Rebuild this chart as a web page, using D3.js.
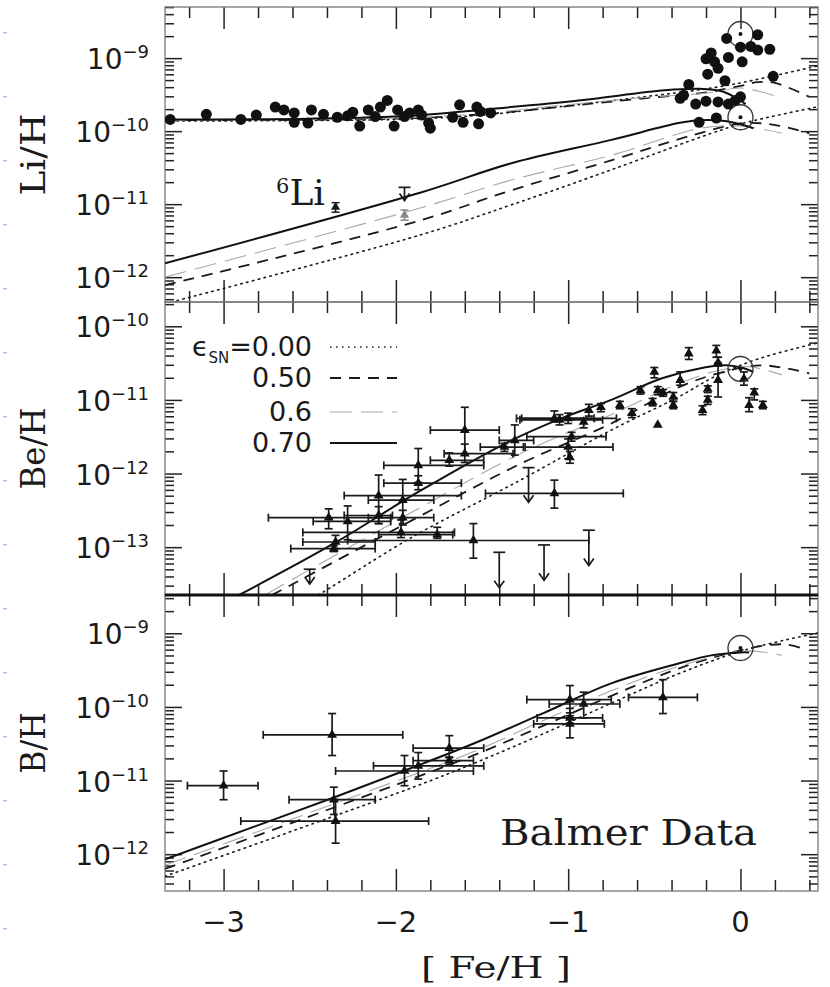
<!DOCTYPE html>
<html>
<head>
<meta charset="utf-8">
<script src="https://cdn.jsdelivr.net/npm/d3@7"></script>
<style>
  body { margin: 0; background: #fff; }
  svg { display: block; }
  .num { font-family: "DejaVu Sans", sans-serif; fill: #1a1a1a; }
  .lab { font-family: "DejaVu Serif", serif; fill: #1a1a1a; }
</style>
</head>
<body>
<script>
const width = 830;
const height = 987;
const left = 165;
const right = 818;

// [Fe/H] ticks
const xMajors = [-3, -2, -1, 0];
const xMinors = [-3.2, -2.8, -2.6, -2.4, -2.2, -1.8, -1.6, -1.4, -1.2, -0.8, -0.6, -0.4, -0.2, 0.2, 0.4];

// --- Li panel (log10 Li/H) ---
const liHalo = [
  [-3.31, -9.84], [-3.10, -9.77], [-2.90, -9.84], [-2.81, -9.78], [-2.70, -9.67],
  [-2.65, -9.71], [-2.59, -9.75], [-2.59, -9.88], [-2.51, -9.89], [-2.49, -9.71],
  [-2.42, -9.77], [-2.34, -9.81], [-2.28, -9.79], [-2.25, -9.74], [-2.21, -9.93],
  [-2.16, -9.71], [-2.12, -9.80], [-2.09, -9.67], [-2.05, -9.58], [-2.01, -9.93],
  [-1.99, -9.71], [-1.95, -9.80], [-1.92, -9.75], [-1.87, -9.71], [-1.85, -9.78],
  [-1.81, -9.89], [-1.80, -9.96], [-1.67, -9.81], [-1.63, -9.64], [-1.61, -9.88],
  [-1.53, -9.67], [-1.51, -9.73], [-1.52, -9.90], [-1.45, -9.75]
];
const liDisk = [
  [-0.30, -9.36], [-0.35, -9.55], [-0.33, -9.51], [-0.26, -9.63], [-0.20, -9.59],
  [-0.13, -9.60], [-0.07, -9.63], [-0.03, -9.58], [0.00, -9.53], [-0.24, -9.88],
  [-0.14, -9.82], [-0.19, -9.22], [-0.20, -9.01], [-0.17, -8.93], [-0.15, -9.05],
  [-0.13, -9.14], [-0.09, -9.31], [-0.08, -8.73], [-0.07, -8.99], [0.00, -8.85],
  [0.01, -9.05], [0.06, -8.84], [0.10, -8.68], [0.10, -8.89], [0.17, -8.88],
  [0.19, -9.25]
];
// 6Li: [x, y, yLow, yHigh, gray]
const li6Points = [[-2.35, -11.04, -10.98, -11.11, 0], [-1.95, -11.15, -11.08, -11.22, 1]];
// upper limits: [x, top, arrow tip]
const li6Limits = [[-1.95, -10.77, -10.95]];
const liSun = [[0, -8.67], [0, -9.81]];

const liCurves = {
  e0: [[[-3.34, -9.86], [-2.0, -9.84], [-1.5, -9.78], [-1.14, -9.69], [-0.56, -9.53], [-0.2, -9.42], [0.02, -9.33], [0.46, -9.10]],
       [[-3.27, -12.32], [-1.855, -11.42], [-1.33, -11.01], [-0.75, -10.53], [-0.17, -10.03], [0.02, -9.89], [0.46, -9.66]]],
  e5: [[[-3.34, -9.85], [-2.0, -9.83], [-1.5, -9.77], [-1.14, -9.69], [-0.56, -9.55], [-0.2, -9.47], [0.0, -9.38], [0.1, -9.33], [0.2, -9.34], [0.4, -9.53]],
       [[-3.34, -12.11], [-1.855, -11.22], [-1.33, -10.81], [-0.75, -10.40], [-0.27, -10.05], [0.02, -9.89], [0.21, -9.92], [0.40, -10.03]]],
  e6: [[[-3.34, -9.85], [-2.0, -9.82], [-1.5, -9.76], [-1.14, -9.67], [-0.56, -9.54], [-0.2, -9.48], [0.0, -9.41], [0.1, -9.45], [0.22, -9.53]],
       [[-3.34, -12.0], [-1.855, -11.05], [-1.33, -10.67], [-0.75, -10.33], [-0.23, -9.96], [0.0, -9.93], [0.24, -10.03]]],
  e7: [[[-3.34, -9.84], [-2.5, -9.83], [-1.91, -9.79], [-1.47, -9.70], [-0.94, -9.58], [-0.44, -9.44], [-0.24, -9.42], [-0.1, -9.46], [-0.02, -9.55], [0.03, -9.63]],
       [[-3.34, -11.81], [-1.855, -10.84], [-1.33, -10.44], [-0.75, -10.12], [-0.36, -9.89], [-0.24, -9.85], [-0.09, -9.86], [0.02, -9.92], [0.075, -9.96]]]
};

// --- Be panel: [x, y, xLow, xHigh, yLow, yHigh] ---
const beData = [
  [-1.60, -11.41, -1.80, -1.40, -11.10, -11.73], [-1.60, -11.73, -1.72, -1.32, -11.60, -11.85],
  [-1.69, -11.82, -1.80, -1.49, -11.72, -11.90], [-1.87, -11.89, -2.07, -1.49, -11.66, -12.12],
  [-1.87, -12.13, -2.07, -1.62, -12.03, -12.22], [-2.10, -12.30, -2.30, -1.62, -12.02, -12.68],
  [-1.96, -12.36, -2.16, -1.78, -12.08, -12.68], [-2.10, -12.57, -2.30, -2.02, -12.45, -12.68],
  [-1.96, -12.60, -2.16, -1.78, -12.50, -12.70], [-2.39, -12.60, -2.74, -2.03, -12.48, -12.75],
  [-2.28, -12.65, -2.48, -2.03, -12.44, -12.90], [-1.97, -12.80, -2.54, -1.66, -12.63, -12.87],
  [-1.76, -12.83, -2.10, -1.67, -12.73, -12.88], [-1.55, -12.91, -2.28, -0.88, -12.68, -13.15],
  [-2.35, -12.93, -2.54, -2.12, -12.84, -13.02], [-2.36, -13.02, -2.61, -2.12, -12.98, -13.06],
  [-1.37, -11.64, -1.51, -1.26, -11.59, -11.70], [-1.31, -11.55, -1.40, -1.20, -11.34, -11.75],
  [-1.08, -11.25, -1.27, -0.72, -11.15, -11.30], [-1.00, -11.25, -1.30, -0.85, -11.18, -11.32],
  [-1.05, -11.27, -1.28, -0.80, -11.20, -11.34], [-0.98, -11.50, -1.24, -0.78, -11.44, -11.56],
  [-1.00, -11.64, -1.25, -0.74, -11.53, -11.80], [-0.99, -11.78, null, null, -11.70, -11.86],
  [-0.91, -11.30, null, null, -11.25, -11.38], [-0.88, -11.14, null, null, -11.06, -11.22],
  [-0.81, -11.10, null, null, -11.05, -11.16], [-0.70, -11.07, null, null, -11.02, -11.12],
  [-0.63, -11.18, null, null, -11.12, -11.24], [-0.58, -10.87, null, null, -10.82, -10.92],
  [-0.51, -11.03, null, null, -10.98, -11.08], [-0.50, -10.62, null, null, -10.56, -10.70],
  [-0.48, -10.87, null, null, -10.82, -10.93], [-0.45, -10.90, null, null, -10.86, -10.95],
  [-0.48, -11.34, null, null, null, null], [-0.39, -10.96, null, null, -10.90, -11.02],
  [-0.39, -11.07, null, null, -11.02, -11.12], [-0.35, -10.73, null, null, -10.62, -10.80],
  [-0.30, -10.37, null, null, -10.29, -10.45], [-0.22, -11.14, null, null, -11.08, -11.20],
  [-0.19, -11.00, null, null, -10.95, -11.06], [-0.19, -10.85, null, null, -10.81, -10.90],
  [-0.14, -10.33, null, null, -10.26, -10.42], [-0.13, -10.49, null, null, -10.42, -10.54],
  [-0.13, -10.73, null, null, -10.50, -10.96], [0.02, -10.71, null, null, -10.62, -10.80],
  [0.08, -10.90, null, null, -10.85, -11.00], [0.05, -11.07, null, null, -10.97, -11.16],
  [0.13, -11.07, null, null, -11.02, -11.12], [-1.08, -12.27, -1.48, -0.68, -12.09, -12.47]
];
const beLimits = [[-1.23, -11.92, -12.39], [-0.88, -12.77, -13.25], [-1.40, -13.07, -13.55],
  [-1.14, -12.97, -13.45], [-2.50, -13.30, -13.50]];
const beSun = [[0, -10.58]];

const beCurves = {
  e0: [[[-2.45, -13.65], [-2.38, -13.55], [-1.91, -12.87], [-1.27, -12.08], [-0.75, -11.41], [-0.36, -10.96], [-0.13, -10.66], [0.12, -10.43], [0.46, -10.22]]],
  e5: [[[-2.72, -13.65], [-2.59, -13.49], [-1.91, -12.64], [-1.27, -11.86], [-0.75, -11.32], [-0.36, -10.83], [-0.13, -10.64], [0.12, -10.53], [0.4, -10.64]]],
  e6: [[[-2.76, -13.65], [-1.91, -12.53], [-1.27, -11.72], [-0.75, -11.2], [-0.36, -10.78], [-0.13, -10.6], [0.05, -10.55], [0.24, -10.66]]],
  e7: [[[-2.91, -13.65], [-2.36, -12.95], [-1.87, -12.25], [-1.33, -11.55], [-1.04, -11.25], [-0.75, -11.0], [-0.46, -10.71], [-0.21, -10.56], [-0.08, -10.53], [0.02, -10.57], [0.075, -10.62]]]
};

// --- B panel ---
const bData = [
  [-3.00, -11.07, -3.21, -2.80, -10.87, -11.26], [-2.37, -10.38, -2.77, -1.96, -10.09, -10.66],
  [-2.36, -11.26, -2.62, -2.12, -11.09, -11.46], [-2.35, -11.55, -2.90, -1.81, -11.26, -11.85],
  [-1.95, -10.87, -2.35, -1.55, -10.66, -11.07], [-1.87, -10.80, -2.13, -1.49, -10.62, -10.98],
  [-1.69, -10.56, -1.90, -1.49, -10.39, -10.69], [-1.69, -10.73, -1.90, -1.55, -10.68, -10.78],
  [-0.99, -9.90, -1.24, -0.75, -9.71, -10.12], [-0.91, -9.96, -1.11, -0.70, -9.80, -10.15],
  [-0.99, -10.23, -1.20, -0.79, -10.02, -10.42], [-0.99, -10.15, -1.18, -0.80, -10.08, -10.22],
  [-0.45, -9.87, -0.65, -0.25, -9.63, -10.09]
];
const bSun = [[0, -9.2]];

const bCurves = {
  e0: [[[-3.34, -12.3], [-1.91, -11.1], [-1.52, -10.74], [-1.14, -10.36], [-0.75, -9.95], [-0.36, -9.55], [0.02, -9.23], [0.46, -8.99]]],
  e5: [[[-3.34, -12.2], [-1.91, -10.98], [-1.52, -10.63], [-1.14, -10.25], [-0.75, -9.85], [-0.36, -9.48], [0.02, -9.22], [0.25, -9.15], [0.38, -9.22]]],
  e6: [[[-3.34, -12.15], [-1.91, -10.93], [-1.52, -10.58], [-1.14, -10.18], [-0.75, -9.78], [-0.36, -9.45], [0.02, -9.24], [0.24, -9.3]]],
  e7: [[[-3.34, -12.07], [-2.85, -11.65], [-2.36, -11.23], [-1.91, -10.83], [-1.52, -10.47], [-1.14, -10.08], [-0.75, -9.68], [-0.36, -9.41], [-0.17, -9.3], [0.0, -9.26], [0.05, -9.26]]]
};

const legendKeys = ["e0", "e5", "e6", "e7"];
const legendLabels = ["=0.00", "0.50", "0.6", "0.70"];

const lineStyles = {
  e0: { stroke: "#1a1a1a", width: 1.6, dash: "1.5,4.5" },
  e5: { stroke: "#1a1a1a", width: 1.8, dash: "11,8" },
  e6: { stroke: "#a8a8a8", width: 1.1, dash: "22,9" },
  e7: { stroke: "#111", width: 2, dash: null }
};

const x = d3.scaleLinear().domain([-3.34, 0.45]).range([left, right]);

const svg = d3.select("body").append("svg")
  .attr("width", width)
  .attr("height", height);

// faint scan marks along the left edge
svg.append("g").selectAll("rect")
  .data(d3.range(32, 960, 64))
  .enter().append("rect")
  .attr("x", 3).attr("y", d => d).attr("width", 4).attr("height", 1.5)
  .attr("fill", "#b4bdf0");

const panels = [
  { id: "li", top: 7, bottom: 302, dom: [-12.34, -8.3], majors: [-9, -10, -11, -12], title: "Li/H",
    curves: liCurves, data: [], limits: li6Limits, suns: liSun },
  { id: "be", top: 302, bottom: 595, dom: [-13.65, -9.67], majors: [-10, -11, -12, -13], title: "Be/H",
    curves: beCurves, data: beData, limits: beLimits, suns: beSun },
  { id: "b", top: 595, bottom: 891, dom: [-12.5, -8.48], majors: [-9, -10, -11, -12], title: "B/H",
    curves: bCurves, data: bData, limits: [], suns: bSun }
];

panels.forEach(function (p) {
  const y = d3.scaleLog().domain([10 ** p.dom[0], 10 ** p.dom[1]]).range([p.bottom, p.top]);
  p.y = y;
  const yv = v => y(10 ** v);

  const minors = [];
  for (let k = Math.floor(p.dom[0]); k <= Math.ceil(p.dom[1]); k++) {
    for (let m = 2; m <= 9; m++) {
      const v = m * 10 ** k;
      if (v > 10 ** p.dom[0] && v < 10 ** p.dom[1]) minors.push(v);
    }
  }
  const majors = p.majors.map(k => 10 ** k);

  svg.append("clipPath").attr("id", "clip-" + p.id)
    .append("rect")
    .attr("x", left).attr("y", p.top)
    .attr("width", right - left).attr("height", p.bottom - p.top);

  const axes = svg.append("g").attr("class", "axes");
  const addAxis = function (axis, tx, ty) {
    const g = axes.append("g")
      .attr("transform", "translate(" + tx + "," + ty + ")")
      .call(axis);
    g.select(".domain").remove();
    g.selectAll("line").attr("stroke", "#222").attr("stroke-width", 1.5);
    g.selectAll("text").remove();
  };
  addAxis(d3.axisLeft(y).tickValues(majors).tickSize(-17).tickFormat(""), left, 0);
  addAxis(d3.axisLeft(y).tickValues(minors).tickSize(-9).tickFormat(""), left, 0);
  addAxis(d3.axisRight(y).tickValues(majors).tickSize(-17).tickFormat(""), right, 0);
  addAxis(d3.axisRight(y).tickValues(minors).tickSize(-9).tickFormat(""), right, 0);
  addAxis(d3.axisTop(x).tickValues(xMajors).tickSize(-22).tickFormat(""), 0, p.top);
  addAxis(d3.axisTop(x).tickValues(xMinors).tickSize(-11).tickFormat(""), 0, p.top);
  addAxis(d3.axisBottom(x).tickValues(xMajors).tickSize(-22).tickFormat(""), 0, p.bottom);
  addAxis(d3.axisBottom(x).tickValues(xMinors).tickSize(-11).tickFormat(""), 0, p.bottom);

  svg.append("rect")
    .attr("x", left).attr("y", p.top)
    .attr("width", right - left).attr("height", p.bottom - p.top)
    .attr("fill", "none").attr("stroke", "#777").attr("stroke-width", 1.3);

  // y tick labels 10^k
  const lab = svg.append("g");
  p.majors.forEach(function (k) {
    const t = lab.append("text").attr("class", "num")
      .attr("x", 149).attr("y", yv(k) + 11)
      .attr("text-anchor", "end").attr("font-size", 28);
    t.append("tspan").text("10");
    t.append("tspan").attr("dy", -11).attr("font-size", 18).text("\u2212" + Math.abs(k));
  });

  svg.append("text").attr("class", "lab")
    .attr("transform", "translate(45," + (p.top + p.bottom) / 2 + ") rotate(-90)")
    .attr("text-anchor", "middle").attr("font-size", 34)
    .attr("textLength", p.title.length * 20.5).attr("lengthAdjust", "spacingAndGlyphs")
    .text(p.title);

  const plot = svg.append("g").attr("clip-path", "url(#clip-" + p.id + ")");
  const line = d3.line().x(d => x(d[0])).y(d => yv(d[1])).curve(d3.curveCatmullRom.alpha(0.5));

  ["e0", "e5", "e6", "e7"].forEach(function (key) {
    const s = lineStyles[key];
    p.curves[key].forEach(function (c) {
      plot.append("path")
        .attr("d", line(c))
        .attr("fill", "none")
        .attr("stroke", s.stroke)
        .attr("stroke-width", s.width)
        .attr("stroke-dasharray", s.dash)
        .attr("stroke-linecap", key === "e0" ? "round" : "butt");
    });
  });

  // error bars
  const eb = plot.append("g").attr("stroke", "#1a1a1a").attr("stroke-width", 1.7).attr("fill", "none");
  p.data.forEach(function (d) {
    const cx = x(d[0]);
    const cy = yv(d[1]);
    if (d[2] !== null) {
      eb.append("line").attr("x1", x(d[2])).attr("x2", x(d[3])).attr("y1", cy).attr("y2", cy);
      eb.append("line").attr("x1", x(d[2])).attr("x2", x(d[2])).attr("y1", cy - 4).attr("y2", cy + 4);
      eb.append("line").attr("x1", x(d[3])).attr("x2", x(d[3])).attr("y1", cy - 4).attr("y2", cy + 4);
    }
    if (d[4] !== null) {
      eb.append("line").attr("x1", cx).attr("x2", cx).attr("y1", yv(d[4])).attr("y2", yv(d[5]));
      eb.append("line").attr("x1", cx - 4).attr("x2", cx + 4).attr("y1", yv(d[4])).attr("y2", yv(d[4]));
      eb.append("line").attr("x1", cx - 4).attr("x2", cx + 4).attr("y1", yv(d[5])).attr("y2", yv(d[5]));
    }
  });
  plot.append("g").selectAll("path")
    .data(p.data)
    .enter().append("path")
    .attr("d", d3.symbol(d3.symbolTriangle, 42))
    .attr("transform", d => "translate(" + x(d[0]) + "," + yv(d[1]) + ")")
    .attr("fill", "#111");

  // upper limits
  const ul = plot.append("g").attr("stroke", "#1a1a1a").attr("stroke-width", 1.7).attr("fill", "none");
  p.limits.forEach(function (d) {
    const cx = x(d[0]);
    const t = yv(d[1]);
    const b = yv(d[2]);
    ul.append("line").attr("x1", cx - 6).attr("x2", cx + 6).attr("y1", t).attr("y2", t);
    ul.append("line").attr("x1", cx).attr("x2", cx).attr("y1", t).attr("y2", b);
    ul.append("path").attr("d", "M" + (cx - 5) + "," + (b - 7) + "L" + cx + "," + b + "L" + (cx + 5) + "," + (b - 7));
  });

  // solar symbols
  p.suns.forEach(function (d) {
    plot.append("circle").attr("cx", x(d[0])).attr("cy", yv(d[1])).attr("r", 12.5)
      .attr("fill", "none").attr("stroke", "#333").attr("stroke-width", 1.3);
    plot.append("circle").attr("cx", x(d[0])).attr("cy", yv(d[1])).attr("r", 2).attr("fill", "#111");
  });
});

// Li points and 6Li
const pLi = panels[0];
const liY = v => pLi.y(10 ** v);
const liG = svg.append("g").attr("clip-path", "url(#clip-li)");
liG.selectAll(".li")
  .data(liHalo.concat(liDisk))
  .enter().append("circle")
  .attr("class", "li")
  .attr("cx", d => x(d[0]))
  .attr("cy", d => liY(d[1]))
  .attr("r", 5.5)
  .attr("fill", "#111");
li6Points.forEach(function (d) {
  const col = d[4] ? "#888" : "#1a1a1a";
  const cx = x(d[0]);
  liG.append("line").attr("x1", cx).attr("x2", cx).attr("y1", liY(d[2])).attr("y2", liY(d[3]))
    .attr("stroke", col).attr("stroke-width", 1.5);
  [d[2], d[3]].forEach(function (v) {
    liG.append("line").attr("x1", cx - 4).attr("x2", cx + 4).attr("y1", liY(v)).attr("y2", liY(v))
      .attr("stroke", col).attr("stroke-width", 1.5);
  });
  liG.append("path").attr("d", d3.symbol(d3.symbolTriangle, 36))
    .attr("transform", "translate(" + cx + "," + liY(d[1]) + ")")
    .attr("fill", col);
});

const li6Label = svg.append("text").attr("class", "lab").attr("x", 276).attr("y", 205).attr("font-size", 36);
li6Label.append("tspan").attr("font-size", 21).attr("dy", -12).text("6");
li6Label.append("tspan").attr("dy", 12).text("Li");

// thick separator between Be and B panels
svg.append("line").attr("x1", left).attr("x2", right).attr("y1", 595).attr("y2", 595)
  .attr("stroke", "#111").attr("stroke-width", 3);

// x tick labels
svg.append("g").selectAll("text")
  .data(xMajors)
  .enter().append("text")
  .attr("class", "num")
  .attr("x", d => x(d))
  .attr("y", 932)
  .attr("text-anchor", "middle")
  .attr("font-size", 29)
  .text(d => (d < 0 ? "\u2212" + Math.abs(d) : "" + d));

svg.append("text").attr("class", "lab")
  .attr("x", 496).attr("y", 978)
  .attr("text-anchor", "middle").attr("font-size", 30)
  .attr("textLength", 150).attr("lengthAdjust", "spacingAndGlyphs")
  .text("[ Fe/H ]");

svg.append("text").attr("class", "lab")
  .attr("x", 500).attr("y", 845).attr("font-size", 35)
  .attr("textLength", 257).attr("lengthAdjust", "spacingAndGlyphs")
  .text("Balmer Data");

// legend
const legendY = [347, 378, 412, 443];
const leg = svg.append("g");
legendKeys.forEach(function (key, i) {
  const s = lineStyles[key];
  leg.append("line")
    .attr("x1", 330).attr("x2", 397)
    .attr("y1", legendY[i]).attr("y2", legendY[i])
    .attr("stroke", s.stroke).attr("stroke-width", s.width)
    .attr("stroke-dasharray", s.dash);
  const t = leg.append("text").attr("class", "num")
    .attr("x", 312).attr("y", legendY[i] + 9)
    .attr("text-anchor", "end").attr("font-size", 27)
    .attr("fill", key === "e6" ? "#a8a8a8" : "#1a1a1a");
  if (i === 0) {
    t.append("tspan").text("\u03f5");
    t.append("tspan").attr("font-size", 15).attr("dy", 7).text("SN");
    t.append("tspan").attr("dy", -7).text(legendLabels[i]);
  } else {
    t.text(legendLabels[i]);
  }
});
</script>
</body>
</html>
